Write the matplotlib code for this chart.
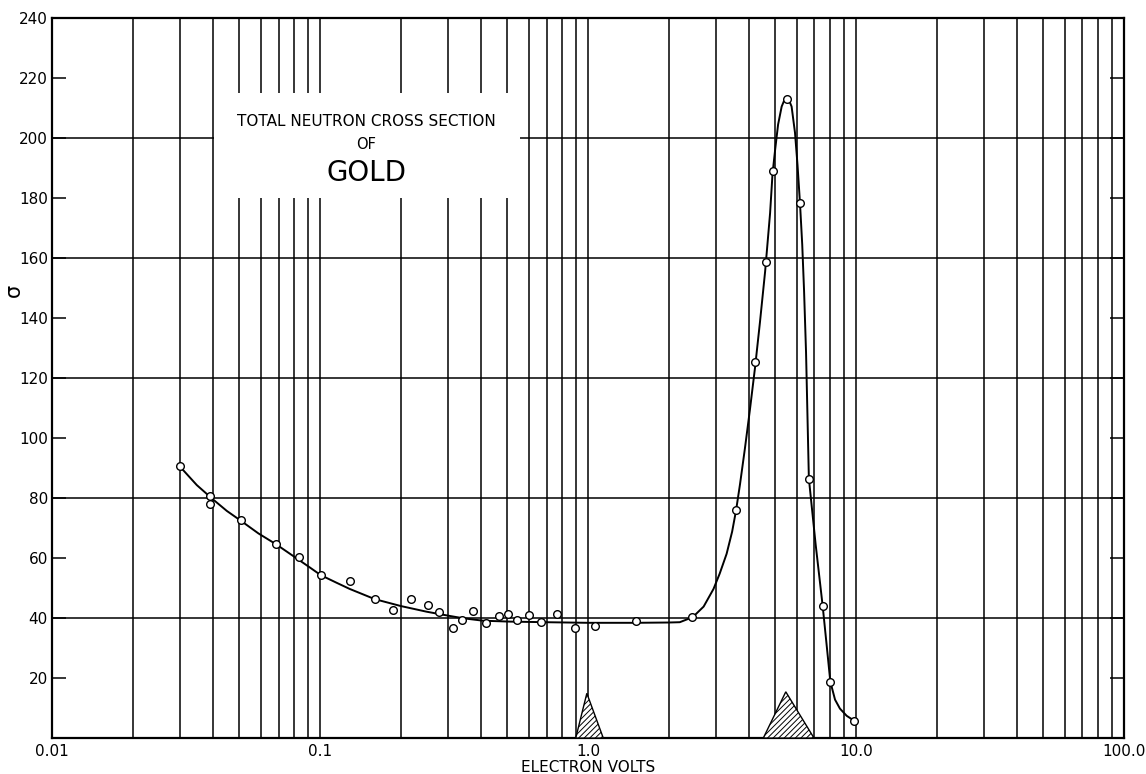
import matplotlib
matplotlib.use('Agg')
import matplotlib.pyplot as plt
from matplotlib.ticker import LogLocator, FixedLocator, NullFormatter
from matplotlib.patches import Rectangle

# measured points: energy (eV) and total cross section (barns)
energy = [0.030, 0.039, 0.039, 0.0506, 0.0685, 0.0833, 0.1005, 0.129, 0.160,
          0.188, 0.219, 0.252, 0.277, 0.314, 0.340, 0.373, 0.416, 0.464,
          0.504, 0.545, 0.604, 0.670, 0.768, 0.892, 1.06, 1.51, 2.45,
          3.57, 4.19, 4.60, 4.88, 5.52, 6.18, 6.67, 7.51, 8.02, 9.83]
sigma = [90.7, 80.6, 78.1, 72.6, 64.8, 60.2, 54.2, 52.4, 46.3,
         42.6, 46.4, 44.3, 41.9, 36.6, 39.3, 42.2, 38.4, 40.7,
         41.3, 39.2, 41.0, 38.8, 41.4, 36.8, 37.4, 39.0, 40.3,
         76.0, 125.5, 158.6, 189.0, 213.0, 178.3, 86.5, 44.0, 18.8, 5.8]

# hand drawn curve through the points
curve_e = [0.030, 0.0347, 0.0398, 0.0449, 0.0507, 0.0589, 0.0685, 0.0830,
           0.0918, 0.1006, 0.115, 0.129, 0.160, 0.200, 0.250, 0.300, 0.343,
           0.406, 0.512, 0.70, 1.0, 1.5, 2.0, 2.20, 2.46, 2.70, 2.94, 3.10,
           3.29, 3.45, 3.57, 3.69, 3.85, 4.02, 4.20, 4.38, 4.58, 4.78, 4.88,
           4.99, 5.12, 5.28, 5.40, 5.51, 5.63, 5.75, 5.92, 6.05, 6.18, 6.30,
           6.40, 6.51, 6.67, 7.07, 7.51, 7.76, 8.02, 8.35, 8.71, 9.23, 9.83]
curve_s = [90.5, 84.3, 79.6, 75.7, 72.4, 68.2, 64.6, 59.5,
           56.8, 54.3, 51.8, 49.7, 46.3, 44.0, 42.1, 40.8, 39.9,
           39.1, 38.8, 38.6, 38.4, 38.4, 38.5, 38.6, 40.3, 43.8, 49.7, 54.8,
           61.4, 68.8, 76.0, 84.5, 96.5, 109.5, 123.5, 138.5, 155.5, 175.0, 188.0,
           196.0, 204.5, 210.5, 212.6, 213.2, 212.5, 210.5, 201.8, 191.0, 178.3, 164.5,
           149.1, 128.5, 86.5, 64.5, 44.0, 31.5, 18.8, 12.8, 9.8, 7.4, 5.8]

# resolution triangles
res1_e = [0.90, 0.99, 1.14]
res1_h = [0, 14.9, 0]
res2_e = [4.51, 5.47, 6.97]
res2_h = [0, 15.4, 0]

plt.rcParams['hatch.linewidth'] = 0.7
fig = plt.figure(figsize=(11.46, 7.74), dpi=100)
ax = fig.add_axes([0.0454, 0.0465, 0.9354, 0.9302])

ax.set_xscale('log')
ax.set_xlim(0.01, 100)
ax.set_ylim(0, 240)

# log grid: every 1..9 in each decade
for dec in [0.01, 0.1, 1.0, 10.0]:
    for k in range(1, 10):
        ax.axvline(dec * k, color='black', lw=1.1, zorder=1)
for yv in [40, 80, 120, 160, 200]:
    ax.axhline(yv, color='black', lw=1.1, zorder=1)

# title panel blanks out the grid
ax.add_patch(Rectangle((0.0402, 180.0), 0.557 - 0.0402, 35.0,
                       facecolor='white', edgecolor='none', zorder=2))
ax.text(0.149, 205.5, 'TOTAL NEUTRON CROSS SECTION', ha='center', va='center',
        fontsize=11, zorder=3)
ax.text(0.149, 198, 'OF', ha='center', va='center', fontsize=10.5, zorder=3)
ax.text(0.149, 188.5, 'GOLD', ha='center', va='center', fontsize=20, zorder=3)

ax.plot(curve_e, curve_s, color='black', lw=1.4, zorder=4,
        solid_joinstyle='round')
ax.plot(energy, sigma, 'o', ms=5.5, mfc='white', mec='black', mew=1.0, zorder=5)

ax.fill(res1_e, res1_h, facecolor='white', edgecolor='black', hatch='//////',
        lw=1.0, zorder=4)
ax.fill(res2_e, res2_h, facecolor='white', edgecolor='black', hatch='//////',
        lw=1.0, zorder=4)

ax.xaxis.set_major_locator(FixedLocator([0.01, 0.1, 1.0, 10.0, 100.0]))
ax.xaxis.set_minor_locator(LogLocator(subs=range(2, 10)))
ax.xaxis.set_minor_formatter(NullFormatter())
ax.set_xticklabels(['0.01', '0.1', '1.0', '10.0', '100.0'])
ax.tick_params(axis='x', which='both', length=0, pad=4, labelsize=11)

ax.set_yticks(range(20, 241, 20))
ax.tick_params(axis='y', direction='in', length=10, width=1.1, labelsize=11,
               right=True, pad=3)

for sp in ax.spines.values():
    sp.set_linewidth(1.6)

ax.set_xlabel('ELECTRON VOLTS', fontsize=11, labelpad=1)
fig.text(0.012, 0.625, 'σ', fontsize=15, rotation=90, ha='center', va='center')

fig.savefig('out.png', dpi=100, facecolor='white')
